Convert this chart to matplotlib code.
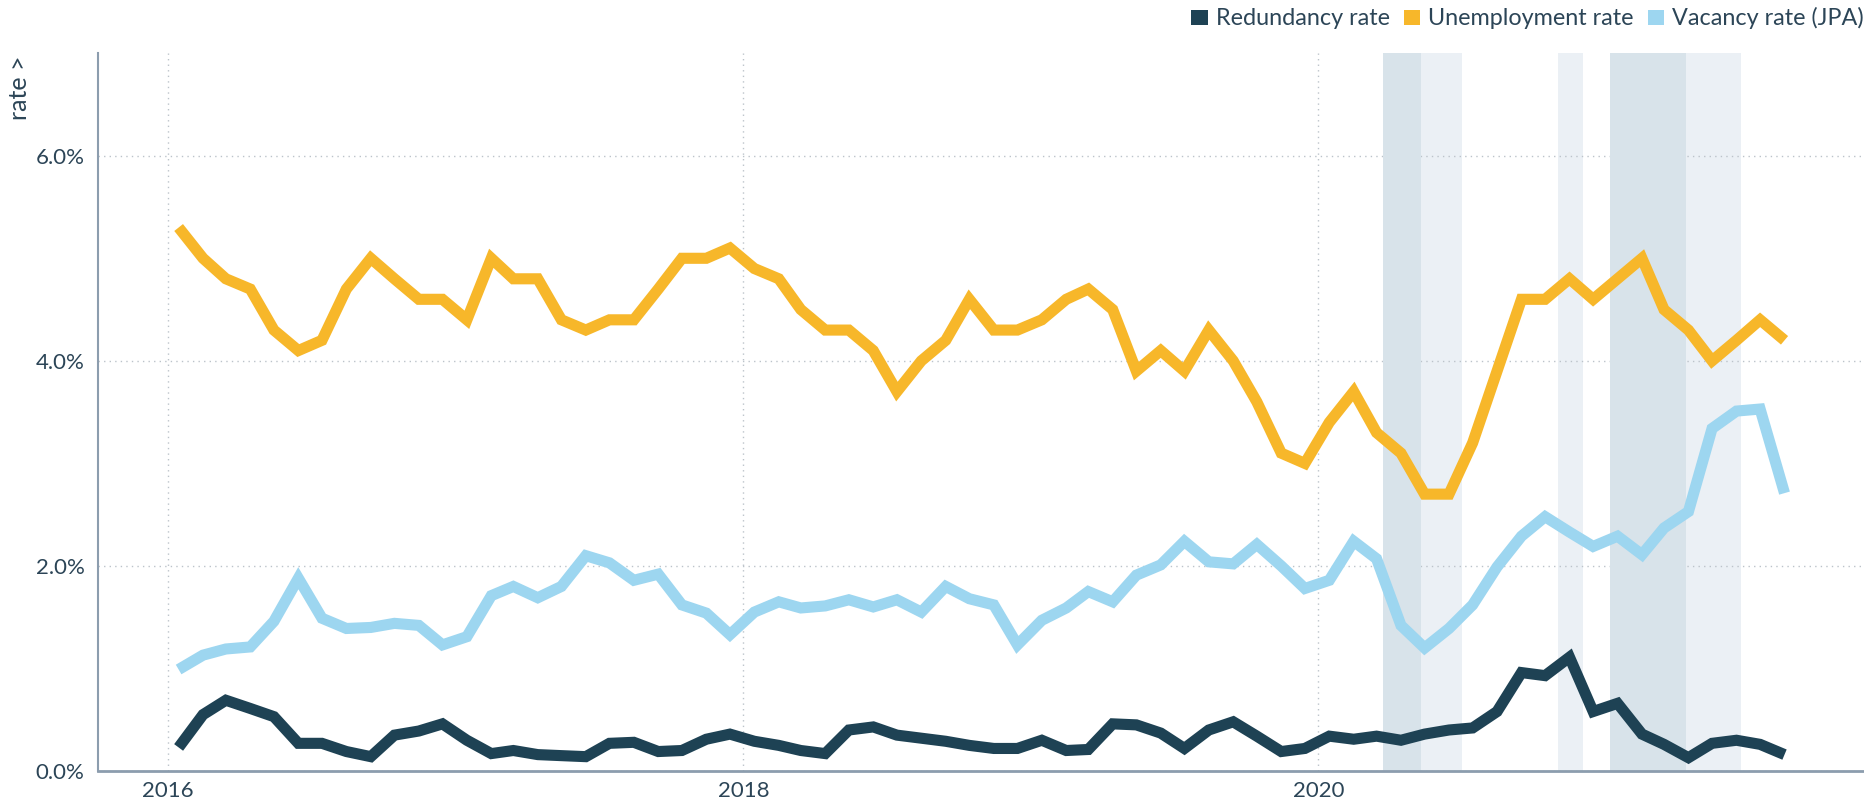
import matplotlib
matplotlib.use("Agg")
import matplotlib.pyplot as plt
import matplotlib.dates as mdates
from matplotlib.patches import Patch
import pandas as pd

plt.rcParams['font.family'] = ['Lato', 'DejaVu Sans']

# monthly observations, Jan 2016 - Aug 2021 (plotted mid-month)
months = pd.date_range('2016-01-01', periods=68, freq='MS') + pd.Timedelta(days=14)

redundancy = [0.23, 0.55, 0.69, 0.61, 0.53, 0.27, 0.27, 0.19, 0.14, 0.35,
              0.39, 0.46, 0.30, 0.17, 0.20, 0.16, 0.15, 0.14, 0.27, 0.28,
              0.19, 0.20, 0.31, 0.36, 0.29, 0.25, 0.20, 0.17, 0.40, 0.43,
              0.35, 0.32, 0.29, 0.25, 0.22, 0.22, 0.30, 0.20, 0.21, 0.46,
              0.45, 0.37, 0.22, 0.40, 0.48, 0.34, 0.19, 0.22, 0.34, 0.31,
              0.34, 0.30, 0.36, 0.40, 0.42, 0.58, 0.96, 0.93, 1.11, 0.58,
              0.66, 0.36, 0.26, 0.13, 0.27, 0.30, 0.26, 0.16]

unemployment = [5.3, 5.0, 4.8, 4.7, 4.3, 4.1, 4.2, 4.7, 5.0, 4.8,
                4.6, 4.6, 4.4, 5.0, 4.8, 4.8, 4.4, 4.3, 4.4, 4.4,
                4.7, 5.0, 5.0, 5.1, 4.9, 4.8, 4.5, 4.3, 4.3, 4.1,
                3.7, 4.0, 4.2, 4.6, 4.3, 4.3, 4.4, 4.6, 4.7, 4.5,
                3.9, 4.1, 3.9, 4.3, 4.0, 3.6, 3.1, 3.0, 3.4, 3.7,
                3.3, 3.1, 2.7, 2.7, 3.2, 3.9, 4.6, 4.6, 4.8, 4.6,
                4.8, 5.0, 4.5, 4.3, 4.0, 4.2, 4.4, 4.2]

vacancy = [0.99, 1.13, 1.19, 1.21, 1.46, 1.88, 1.49, 1.39, 1.40, 1.44,
           1.42, 1.23, 1.31, 1.71, 1.80, 1.69, 1.80, 2.10, 2.03, 1.86,
           1.92, 1.62, 1.54, 1.33, 1.55, 1.65, 1.59, 1.61, 1.67, 1.60,
           1.67, 1.55, 1.80, 1.68, 1.62, 1.23, 1.47, 1.59, 1.75, 1.65,
           1.91, 2.01, 2.24, 2.04, 2.02, 2.21, 2.00, 1.78, 1.86, 2.24,
           2.07, 1.42, 1.20, 1.39, 1.62, 1.99, 2.29, 2.48, 2.33, 2.19,
           2.29, 2.11, 2.37, 2.53, 3.34, 3.51, 3.53, 2.71]

series_names = ['Redundancy rate', 'Unemployment rate', 'Vacancy rate (JPA)']
series_colors = ['#1e4254', '#f7b72a', '#9dd6f0']

# lockdown periods (strict) and easing periods
strict_periods = [('2020-03-23', '2020-05-10'), ('2021-01-05', '2021-04-12')]
easing_periods = [('2020-05-10', '2020-07-01'), ('2020-11-01', '2020-12-02'),
                  ('2021-04-12', '2021-06-21')]

y_ticks = [0, 2, 4, 6]
x_tick_years = [2016, 2018, 2020]

text_color = '#2c4557'
axis_color = '#8c9dae'

fig = plt.figure(figsize=(18.65, 8.06), dpi=100)
ax = fig.add_axes([0.0527, 0.0434, 0.9468, 0.8906])

for s, e in easing_periods:
    ax.axvspan(pd.Timestamp(s), pd.Timestamp(e), color='#ebf0f5', lw=0, zorder=0.3)
for s, e in strict_periods:
    ax.axvspan(pd.Timestamp(s), pd.Timestamp(e), color='#d8e3ea', lw=0, zorder=0.7)

for vals, name, col in zip([redundancy, unemployment, vacancy], series_names, series_colors):
    ax.plot(months, vals, color=col, lw=8, solid_joinstyle='miter',
            solid_capstyle='butt', zorder=3, label=name)

ax.set_axisbelow(True)
ax.set_ylim(0, 7)
ax.set_xlim(pd.Timestamp('2015-10-05'), pd.Timestamp('2021-11-24'))
ax.set_yticks(y_ticks)
ax.set_yticklabels([f'{v:.1f}%' for v in y_ticks])
ax.set_xticks([pd.Timestamp(f'{y}-01-01') for y in x_tick_years])
ax.set_xticklabels([str(y) for y in x_tick_years])
ax.grid(True, color='#bcc3ca', linestyle=(0, (1, 3)), lw=1.0)
ax.tick_params(axis='both', length=0, labelsize=16, colors=text_color)
ax.tick_params(axis='y', pad=10)
ax.tick_params(axis='x', pad=7)

for sp in ['top', 'right']:
    ax.spines[sp].set_visible(False)
ax.spines['left'].set_color(axis_color)
ax.spines['left'].set_linewidth(1.5)
ax.spines['bottom'].set_color(axis_color)
ax.spines['bottom'].set_linewidth(2.0)

fig.text(0.0045, 0.931, 'rate >', rotation=90, ha='left', va='top',
         fontsize=18, color=text_color)

handles = [Patch(facecolor=c, edgecolor='none') for c in series_colors]
fig.legend(handles, series_names, loc='upper right', bbox_to_anchor=(0.9995, 0.991),
           ncol=3, frameon=False, fontsize=16.8, labelcolor=text_color,
           borderpad=0, borderaxespad=0,
           handlelength=0.7, handleheight=0.6, handletextpad=0.35, columnspacing=0.6)

fig.savefig('out.png', dpi=100, facecolor='white')
